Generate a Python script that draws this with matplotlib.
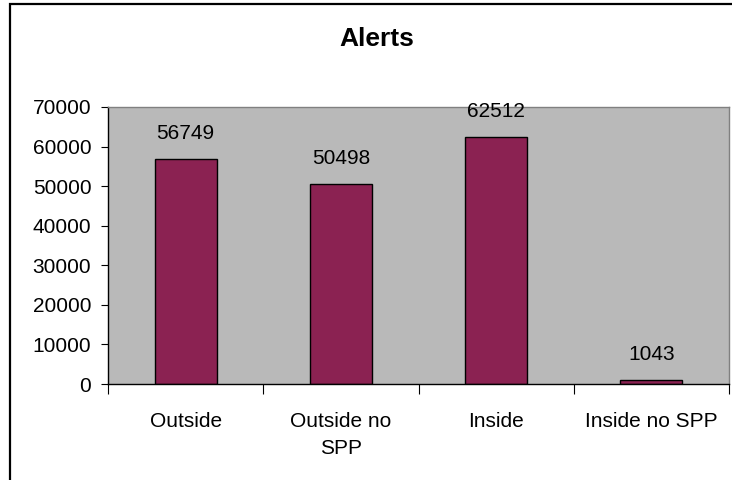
import matplotlib.pyplot as plt
from matplotlib.patches import Rectangle

categories = ["Outside", "Outside no\nSPP", "Inside", "Inside no SPP"]
alerts = [56749, 50498, 62512, 1043]
y_ticks = [0, 10000, 20000, 30000, 40000, 50000, 60000, 70000]

plt.rcParams["font.family"] = ["Liberation Sans", "DejaVu Sans"]

fig = plt.figure(figsize=(7.32, 4.8), dpi=100)
ax = fig.add_axes([108 / 732, 1 - 384 / 480, 621 / 732, 277 / 480])

# outer chart frame (runs off the right and bottom edges)
fig.patches.append(Rectangle((10 / 732, -0.2), 1.2, 1.2 - 3.5 / 480,
                             transform=fig.transFigure, fill=False,
                             edgecolor="black", linewidth=1.6, zorder=0))

ax.set_facecolor("#b9b9b9")
x = range(len(categories))
bars = ax.bar(x, alerts, width=0.4, color="#8b2252", edgecolor="black",
              linewidth=1.0, zorder=2)

for xi, v in zip(x, alerts):
    ax.annotate(str(v), (xi, v), xytext=(0, 11.5), textcoords="offset points",
                ha="center", va="bottom", fontsize=15)

ax.set_xlim(-0.5, len(categories) - 0.5)
ax.set_ylim(0, 70000)
ax.set_yticks(y_ticks)
ax.set_yticklabels([str(t) for t in y_ticks], fontsize=15)
ax.tick_params(axis="y", direction="out", length=5, width=0.8, pad=7)

ax.set_xticks(list(x))
ax.set_xticklabels(categories, fontsize=15, linespacing=1.55)
ax.tick_params(axis="x", which="major", length=0, pad=20)
ax.set_xticks([i - 0.5 for i in range(len(categories) + 1)], minor=True)
ax.tick_params(axis="x", which="minor", direction="out", length=7, width=0.8)

ax.spines["left"].set_color("black")
ax.spines["bottom"].set_color("black")
ax.spines["top"].set_color("#808080")
ax.spines["right"].set_color("#808080")
for s in ax.spines.values():
    s.set_linewidth(1.0)

fig.text(377 / 732, 1 - 39 / 480, "Alerts", ha="center", va="center",
         fontsize=19, fontweight="bold")

plt.savefig("out.png", dpi=100)
